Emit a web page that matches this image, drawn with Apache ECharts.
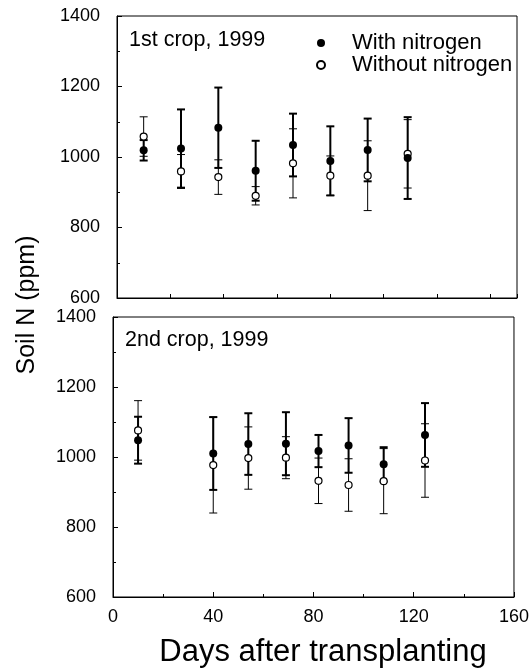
<!DOCTYPE html>
<html>
<head>
<meta charset="utf-8">
<script src="https://cdn.jsdelivr.net/npm/echarts@6/dist/echarts.min.js"></script>
<style>html,body{margin:0;padding:0;background:#fff}#c{width:532px;height:668px}</style>
</head>
<body>
<div id="c"></div>
<script>
// ---- data ----
const days1 = [10, 24, 38, 52, 66, 80, 94, 109];
const withN1 = [1019, 1024, 1083, 961, 1034, 989, 1020, 997];
const withN1Err = [29, 111, 114, 85, 89, 98, 89, 116];
const withoutN1 = [1058, 959, 943, 890, 982, 947, 947, 1009];
const withoutN1Err = [56, 48, 49, 26, 98, 56, 99, 97];

const days2 = [10, 40, 54, 69, 82, 94, 108, 124.5];
const withN2 = [1048, 1010, 1037, 1038, 1017, 1033, 979, 1063];
const withN2Err = [67, 104, 88, 90, 46, 78, 49, 91];
const withoutN2 = [1076, 977, 997, 998, 932, 920, 931, 990];
const withoutN2Err = [85, 137, 89, 60, 65, 75, 93, 105];

const yTicks = [600, 800, 1000, 1200, 1400];
const xTicks = [0, 40, 80, 120, 160];
const panelTitles = ['1st crop, 1999', '2nd crop, 1999'];
const seriesNames = ['With nitrogen', 'Without nitrogen'];

// ---- helpers ----
const FONT = "'Liberation Sans', Arial, sans-serif";
function pts(d, v) { return d.map((x, i) => [x, v[i]]); }
function errs(d, v, e) { return d.map((x, i) => [x, v[i] - e[i], v[i] + e[i]]); }
function errRender(lw) {
  return function (params, api) {
    const x = api.value(0);
    const p1 = api.coord([x, api.value(1)]);
    const p2 = api.coord([x, api.value(2)]);
    const w = 4;
    const st = { stroke: '#000', lineWidth: lw };
    return {
      type: 'group',
      children: [
        { type: 'line', shape: { x1: p1[0], y1: p1[1], x2: p2[0], y2: p2[1] }, style: st },
        { type: 'line', shape: { x1: p1[0] - w, y1: p1[1], x2: p1[0] + w, y2: p1[1] }, style: st },
        { type: 'line', shape: { x1: p2[0] - w, y1: p2[1], x2: p2[0] + w, y2: p2[1] }, style: st }
      ]
    };
  };
}
function yAxisDef(gi) {
  return {
    gridIndex: gi, type: 'value', min: yTicks[0], max: yTicks[yTicks.length - 1], interval: 200,
    axisLine: { show: true, lineStyle: { color: '#000', width: 1 } },
    axisTick: { show: true, inside: true, length: 5, lineStyle: { color: '#000' } },
    minorTick: { show: true, splitNumber: 2, length: 3, lineStyle: { color: '#000' } },
    splitLine: { show: false },
    axisLabel: { color: '#000', fontSize: 18, fontFamily: FONT, margin: 17, formatter: v => String(v) }
  };
}

const chart = echarts.init(document.getElementById('c'));
chart.setOption({
  animation: false,
  backgroundColor: '#fff',
  grid: [
    { left: 117, right: 15, top: 16, height: 282, show: true, borderColor: '#000', borderWidth: 1, backgroundColor: 'transparent' },
    { left: 113, right: 17, top: 317, height: 280, show: true, borderColor: '#000', borderWidth: 1, backgroundColor: 'transparent' }
  ],
  xAxis: [
    {
      gridIndex: 0, type: 'value', min: 0, max: 150, interval: 20,
      axisLine: { show: true, lineStyle: { color: '#000' } },
      axisTick: { show: true, inside: true, length: 4, lineStyle: { color: '#000' } },
      axisLabel: { show: false }, splitLine: { show: false }
    },
    {
      gridIndex: 1, type: 'value', min: xTicks[0], max: xTicks[xTicks.length - 1], interval: 40,
      axisLine: { show: true, lineStyle: { color: '#000' } },
      axisTick: { show: true, inside: true, length: 5, lineStyle: { color: '#000' } },
      minorTick: { show: true, splitNumber: 2, length: 3, lineStyle: { color: '#000' } },
      axisLabel: { color: '#000', fontSize: 18, fontFamily: FONT, margin: 11 },
      splitLine: { show: false }
    }
  ],
  yAxis: [yAxisDef(0), yAxisDef(1)],
  legend: {
    orient: 'vertical', left: 311, top: 27, itemWidth: 8, itemHeight: 8, itemGap: 0,
    textStyle: { color: '#000', fontSize: 22, lineHeight: 22, fontFamily: FONT, padding: [0, 0, 0, 22] },
    data: seriesNames
  },
  graphic: [
    { type: 'text', left: 129, top: 29, style: { text: panelTitles[0], font: '21.5px ' + FONT, fill: '#000' } },
    { type: 'text', left: 125, top: 329, style: { text: panelTitles[1], font: '21.5px ' + FONT, fill: '#000' } },
    { type: 'text', x: 27, y: 305, rotation: Math.PI / 2, style: { text: 'Soil N (ppm)', font: '25px ' + FONT, fill: '#000', textAlign: 'center', textVerticalAlign: 'middle' } },
    { type: 'text', x: 323, y: 652, style: { text: 'Days after transplanting', font: '31px ' + FONT, fill: '#000', textAlign: 'center', textVerticalAlign: 'middle' } }
  ],
  series: [
    { type: 'custom', xAxisIndex: 0, yAxisIndex: 0, renderItem: errRender(2), data: errs(days1, withN1, withN1Err), z: 2, silent: true },
    { type: 'custom', xAxisIndex: 0, yAxisIndex: 0, renderItem: errRender(1), data: errs(days1, withoutN1, withoutN1Err), z: 2, silent: true },
    { type: 'custom', xAxisIndex: 1, yAxisIndex: 1, renderItem: errRender(2), data: errs(days2, withN2, withN2Err), z: 2, silent: true },
    { type: 'custom', xAxisIndex: 1, yAxisIndex: 1, renderItem: errRender(1), data: errs(days2, withoutN2, withoutN2Err), z: 2, silent: true },
    { name: seriesNames[0], type: 'scatter', xAxisIndex: 0, yAxisIndex: 0, data: pts(days1, withN1), symbol: 'circle', symbolSize: 8, itemStyle: { color: '#000', opacity: 1 }, z: 4 },
    { name: seriesNames[1], type: 'scatter', xAxisIndex: 0, yAxisIndex: 0, data: pts(days1, withoutN1), symbol: 'circle', symbolSize: 7, itemStyle: { color: '#fff', borderColor: '#000', borderWidth: 1.2, opacity: 1 }, z: 3 },
    { name: seriesNames[0], type: 'scatter', xAxisIndex: 1, yAxisIndex: 1, data: pts(days2, withN2), symbol: 'circle', symbolSize: 8, itemStyle: { color: '#000', opacity: 1 }, z: 4 },
    { name: seriesNames[1], type: 'scatter', xAxisIndex: 1, yAxisIndex: 1, data: pts(days2, withoutN2), symbol: 'circle', symbolSize: 7, itemStyle: { color: '#fff', borderColor: '#000', borderWidth: 1.2, opacity: 1 }, z: 3 }
  ]
});
</script>
</body>
</html>
